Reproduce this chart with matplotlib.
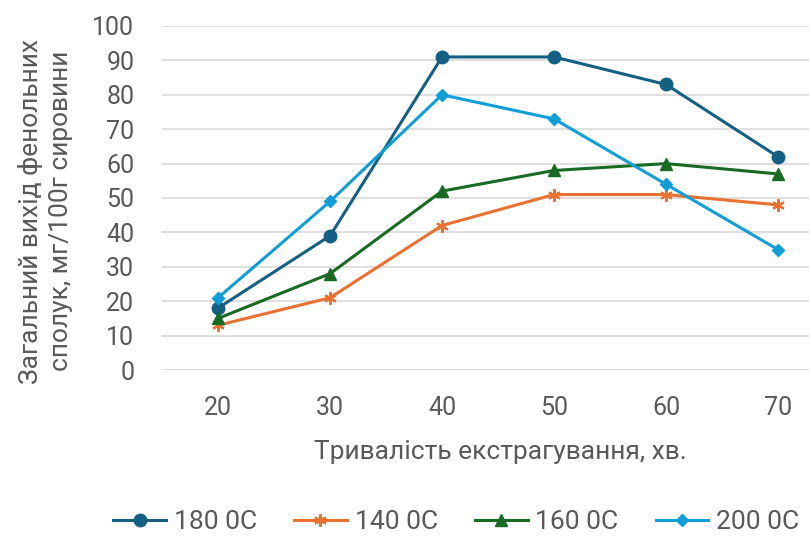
import matplotlib
matplotlib.use('Agg')
import matplotlib.pyplot as plt

plt.rcParams['font.family'] = ['Roboto', 'DejaVu Sans']

minutes = [20, 30, 40, 50, 60, 70]
series_names = ['180 0C', '140 0C', '160 0C', '200 0C']
yield_180 = [18, 39, 91, 91, 83, 62]
yield_140 = [13, 21, 42, 51, 51, 48]
yield_160 = [15, 28, 52, 58, 60, 57]
yield_200 = [21, 49, 80, 73, 54, 35]

colors = ['#156082', '#E97132', '#196B24', '#0F9ED5']
markers = ['o', (6, 2, 0), '^', 'D']
msizes = [9, 9, 8, 6]
txt = '#595959'

fig = plt.figure(figsize=(8.09, 5.36), dpi=100)
ax = fig.add_axes([0.2003, 0.3097, 0.7997, 0.6418])

for name, vals, c, m, ms in zip(series_names, [yield_180, yield_140, yield_160, yield_200],
                                colors, markers, msizes):
    ax.plot(minutes, vals, color=c, lw=2.2, marker=m, ms=ms,
            markeredgewidth=1.5 if m == (6, 2, 0) else 1, label=name, zorder=3)

ax.set_ylim(0, 100)
ax.set_xlim(15, 15 + (809 - 162) / 112 * 10)
ax.set_yticks(range(0, 101, 10))
ax.set_xticks(minutes)
ax.grid(axis='y', color='#D9D9D9', lw=1.2)
ax.set_axisbelow(True)
for s in ax.spines.values():
    s.set_visible(False)
ax.tick_params(length=0, labelsize=18, labelcolor=txt)
ax.tick_params(axis='y', pad=20)
ax.tick_params(axis='x', pad=19)

fig.text(0.056, 0.606, 'Загальний вихід фенольних\nсполук, мг/100г сировини',
         rotation=90, ha='center', va='center', fontsize=19, color=txt,
         linespacing=1.3)
fig.text(0.618, 0.157, 'Тривалість екстрагування, хв.', ha='center', va='center',
         fontsize=19, color=txt)

fig.legend(loc='center', bbox_to_anchor=(0.564, 0.026), ncol=4, frameon=False,
           fontsize=19, labelcolor=txt, handlelength=2.0, columnspacing=1.4,
           handletextpad=0.3)

fig.savefig('out.png', dpi=100)
